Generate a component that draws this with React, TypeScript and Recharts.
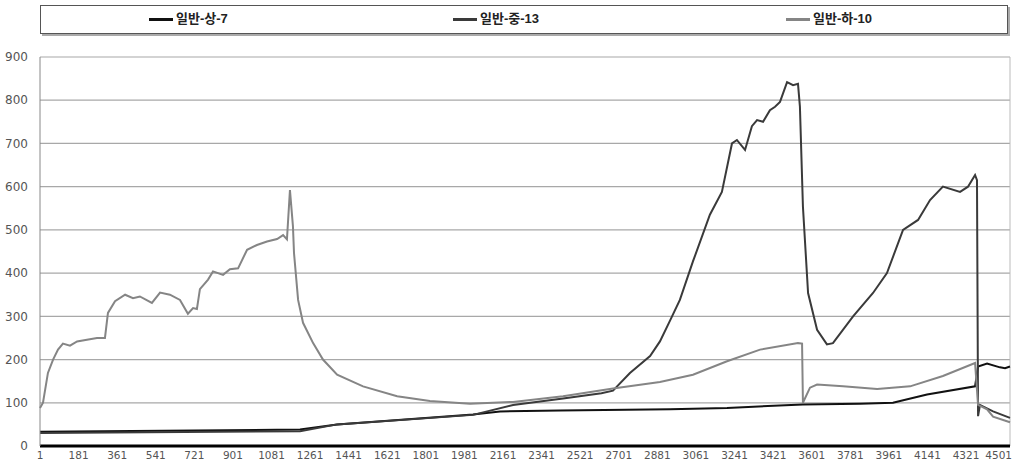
import React from "react";
import {
  LineChart,
  Line,
  XAxis,
  YAxis,
  CartesianGrid,
  Legend,
  ReferenceLine,
} from "recharts";

// x = record index, y = value
const highX = [1, 1214, 1387, 2021, 2147, 2427, 2940, 3206, 3560, 3826, 3980, 4139, 4363, 4377, 4419, 4479, 4503, 4526];
const highY = [33, 38, 50, 73, 80, 82, 85, 88, 96, 98, 100, 119, 138, 184, 191, 182, 180, 184];

const midX = [1, 1214, 1387, 2021, 2208, 2441, 2620, 2674, 2753, 2847, 2893, 2940, 2986, 3047, 3126, 3182, 3229, 3252, 3290, 3322, 3346, 3374, 3406, 3430, 3453, 3486, 3514, 3537, 3546, 3560, 3584, 3626, 3672, 3700, 3794, 3887, 3952, 4027, 4097, 4153, 4213, 4293, 4330, 4363, 4372, 4377, 4386, 4447, 4526];
const midY = [30, 34, 50, 72, 95, 110, 122, 128, 169, 208, 242, 290, 338, 427, 535, 588, 700, 708, 685, 740, 754, 750, 777, 785, 796, 842, 835, 838, 785, 554, 354, 269, 235, 238, 300, 354, 400, 500, 523, 569, 600, 588, 600, 627, 615, 69, 95, 80, 65];

const lowX = [1, 15, 38, 62, 85, 108, 141, 174, 220, 267, 304, 318, 351, 398, 435, 467, 523, 561, 607, 654, 691, 715, 733, 747, 785, 808, 855, 887, 925, 967, 1013, 1060, 1107, 1135, 1153, 1167, 1181, 1186, 1205, 1228, 1275, 1321, 1387, 1508, 1667, 1820, 2007, 2208, 2441, 2674, 2893, 3047, 3206, 3360, 3537, 3556, 3560, 3593, 3626, 3747, 3906, 4060, 4213, 4363, 4377, 4419, 4447, 4526];
const lowY = [88, 100, 169, 200, 223, 237, 232, 242, 246, 250, 250, 308, 335, 350, 342, 346, 331, 355, 350, 338, 306, 319, 317, 363, 385, 404, 396, 409, 411, 454, 465, 473, 479, 488, 478, 592, 508, 446, 338, 285, 238, 200, 165, 138, 115, 104, 98, 102, 115, 133, 148, 165, 196, 223, 238, 237, 100, 135, 142, 138, 132, 138, 162, 192, 95, 85, 68, 55];

const xTicks = [1, 181, 361, 541, 721, 901, 1081, 1261, 1441, 1621, 1801, 1981, 2161, 2341, 2521, 2701, 2881, 3061, 3241, 3421, 3601, 3781, 3961, 4141, 4321, 4501];
const yTicks = [0, 100, 200, 300, 400, 500, 600, 700, 800, 900];

const toPoints = (xs: number[], ys: number[]) => xs.map((x, k) => ({ i: x, v: ys[k] }));

const series = [
  { name: "일반-상-7", color: "#111111", data: toPoints(highX, highY) },
  { name: "일반-중-13", color: "#3a3a3a", data: toPoints(midX, midY) },
  { name: "일반-하-10", color: "#858585", data: toPoints(lowX, lowY) },
];

const legendLeft = [108, 412, 745];

const renderLegend = () => (
  <div
    style={{
      position: "relative",
      width: 966,
      height: 27,
      border: "1px solid #555",
      boxShadow: "2px 2px 0 #aaa",
      background: "#fff",
      fontFamily: "Arial, 'Liberation Sans', 'Noto Sans CJK KR', sans-serif",
    }}
  >
    {series.map((s, k) => (
      <div
        key={s.name}
        style={{ position: "absolute", left: legendLeft[k], top: 5, display: "flex", alignItems: "center" }}
      >
        <span style={{ display: "inline-block", width: 24, height: 3, background: s.color, marginRight: 3 }} />
        <span style={{ fontSize: 13, fontWeight: 700, color: "#222", lineHeight: "16px" }}>{s.name}</span>
      </div>
    ))}
  </div>
);

// keeps the last label inside the picture
const XTick = (props: any) => {
  const { x, y, payload } = props;
  const last = payload.value === xTicks[xTicks.length - 1];
  return (
    <text
      x={last ? 1012 : x}
      y={y}
      dy="0.71em"
      textAnchor={last ? "end" : "middle"}
      fontSize={10.5}
      fill="#555"
      fontFamily="'DejaVu Sans', sans-serif"
    >
      {payload.value}
    </text>
  );
};

export default function App() {
  return (
    <div
      style={{
        position: "fixed",
        top: 0,
        left: 0,
        width: 1014,
        height: 462,
        overflow: "hidden",
        background: "#fff",
      }}
    >
      <LineChart width={1014} height={478} margin={{ top: 57, right: 4, left: 0, bottom: 0 }}>
        <CartesianGrid horizontal vertical={false} stroke="#a8a8a8" strokeWidth={1.2} />
        <XAxis
          type="number"
          dataKey="i"
          domain={[1, 4526]}
          ticks={xTicks}
          interval={0}
          height={32}
          tickLine={false}
          tickMargin={0}
          axisLine={{ stroke: "#000", strokeWidth: 3 }}
          tick={<XTick />}
        />
        <YAxis
          domain={[0, 900]}
          ticks={yTicks}
          width={40}
          tickLine={false}
          tickMargin={6}
          axisLine={{ stroke: "#888" }}
          tick={{ fontSize: 12, fill: "#555", fontFamily: "'DejaVu Sans', sans-serif" }}
        />
        <ReferenceLine x={4526} stroke="#bbb" />
        <Legend
          verticalAlign="middle"
          align="center"
          content={renderLegend}
          wrapperStyle={{ top: 5, left: 40, width: 968, height: 29 }}
        />
        {series.map((s) => (
          <Line
            key={s.name}
            data={s.data}
            dataKey="v"
            name={s.name}
            type="linear"
            stroke={s.color}
            strokeWidth={2}
            dot={false}
            isAnimationActive={false}
          />
        ))}
      </LineChart>
    </div>
  );
}
